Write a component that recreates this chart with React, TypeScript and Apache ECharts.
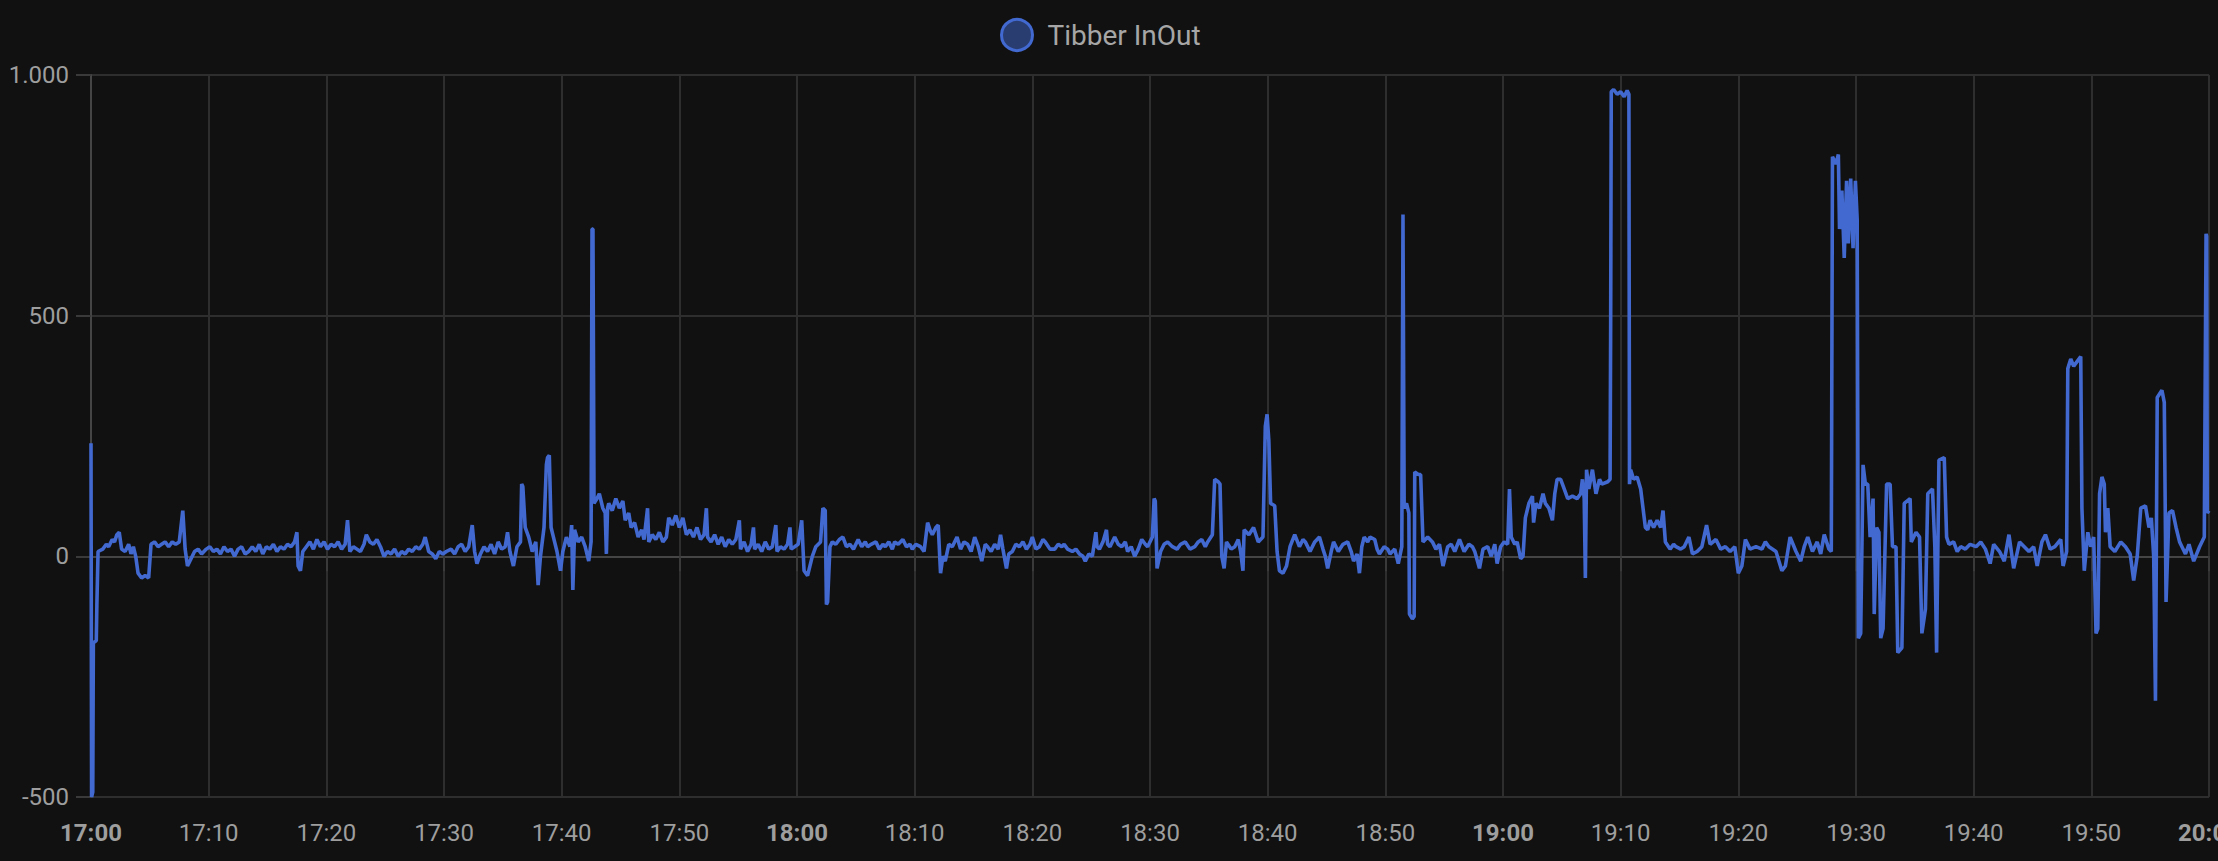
import React, { useEffect, useRef } from "react";
import * as echarts from "echarts";

const seriesName = "Tibber InOut";
const startHour = 17;
const xMinMinutes = 0;
const xMaxMinutes = 180;
const xStepMinutes = 10;
const yMin = -500;
const yMax = 1000;
const yStep = 500;

// [minutes after 17:00, watts]
const seg1700: [number, number][] = [
  [0, 235], [0.05, -500], [0.15, -490], [0.2, -180], [0.45, -175], [0.5, -100], [0.6, 10],
  [1.0, 15], [1.3, 25], [1.5, 20], [1.8, 35], [2.0, 30], [2.2, 45], [2.4, 50], [2.6, 15],
  [2.9, 10], [3.2, 25], [3.4, 5], [3.6, 20], [3.8, 0], [4.0, -35], [4.3, -45], [4.6, -40],
  [4.9, -45], [5.1, 25], [5.4, 30], [5.7, 20], [6.0, 25], [6.3, 30], [6.6, 20], [6.9, 30],
  [7.2, 25], [7.5, 30], [7.8, 95], [8.0, 15], [8.2, -20], [8.5, -5], [8.8, 10], [9.1, 15],
  [9.4, 5], [9.8, 15], [10.1, 20], [10.4, 10], [10.7, 15], [11.0, 5], [11.3, 20], [11.6, 10],
  [11.9, 15], [12.2, 0], [12.5, 15], [12.8, 20], [13.1, 5], [13.4, 10], [13.7, 20], [14.0, 10],
  [14.3, 25], [14.6, 5], [14.9, 20], [15.2, 15], [15.5, 25], [15.8, 10], [16.1, 20], [16.4, 15],
  [16.7, 25], [17.0, 20], [17.3, 30], [17.5, 50], [17.6, -20], [17.8, -30], [18.0, 10], [18.3, 20],
  [18.6, 30], [18.9, 15], [19.2, 35], [19.5, 20], [19.8, 30], [20.1, 15], [20.4, 25], [20.7, 20],
  [21.0, 30], [21.3, 15], [21.6, 25], [21.8, 75], [22.0, 10], [22.3, 20], [22.6, 15], [22.9, 10],
  [23.2, 25], [23.4, 45], [23.7, 30], [24.0, 25], [24.3, 35], [24.6, 20], [24.9, 0], [25.2, 10],
  [25.5, 5], [25.8, 15], [26.1, 0], [26.4, 10], [26.7, 5], [27.0, 15], [27.3, 10], [27.6, 20],
  [27.9, 15], [28.2, 25], [28.4, 40], [28.7, 10], [29.0, 5], [29.3, -5], [29.6, 10], [29.9, 5],
];

const seg1730: [number, number][] = [
  [30.2, 10], [30.6, 15], [30.9, 5], [31.2, 20], [31.5, 25], [31.8, 10], [32.1, 20], [32.4, 65],
  [32.6, 10], [32.8, -15], [33.1, 5], [33.4, 20], [33.7, 10], [34.0, 25], [34.3, 5], [34.6, 30],
  [34.9, 15], [35.2, 20], [35.4, 50], [35.6, 10], [35.9, -20], [36.2, 20], [36.5, 30], [36.6, 150],
  [36.7, 145], [36.9, 60], [37.2, 40], [37.5, 10], [37.8, 30], [38.0, -60], [38.2, 0], [38.5, 60],
  [38.7, 190], [38.8, 205], [38.95, 210], [39.1, 60], [39.3, 40], [39.6, 10], [39.9, -30], [40.1, 10],
  [40.4, 40], [40.7, 20], [40.85, 65], [40.95, -70], [41.1, 55], [41.4, 30], [41.7, 40], [42.0, 20],
  [42.3, -10], [42.5, 30], [42.58, 680], [42.66, 680], [42.75, 110], [43.0, 120], [43.2, 130],
  [43.5, 100], [43.7, 90], [43.8, 5], [43.9, 100], [44.0, 110], [44.3, 95], [44.6, 120], [44.9, 100],
  [45.2, 115], [45.4, 75], [45.7, 90], [45.9, 60], [46.2, 70], [46.5, 40], [46.8, 55], [47.0, 35],
  [47.3, 100], [47.4, 30], [47.7, 45], [48.0, 35], [48.3, 50], [48.6, 30], [48.9, 40], [49.1, 80],
  [49.4, 65], [49.7, 85], [50.0, 60], [50.3, 80], [50.6, 45], [50.9, 55], [51.2, 40], [51.5, 60],
  [51.8, 35], [52.1, 45], [52.3, 100], [52.4, 40], [52.7, 30], [53.0, 45], [53.3, 25], [53.6, 40],
  [53.9, 20], [54.2, 35], [54.5, 25], [54.8, 35], [55.1, 75], [55.2, 15], [55.5, 30], [55.8, 10],
  [56.1, 25], [56.3, 60], [56.4, 15], [56.7, 25], [57.0, 10], [57.3, 30], [57.6, 15], [57.9, 20],
  [58.2, 65], [58.3, 10], [58.6, 20], [58.9, 15], [59.2, 25], [59.4, 60], [59.5, 15], [59.8, 20],
];

const seg1800: [number, number][] = [
  [60.1, 25], [60.4, 75], [60.6, -30], [60.9, -40], [61.3, 0], [61.6, 20], [62.0, 30], [62.2, 100],
  [62.4, 95], [62.5, -100], [62.6, -95], [62.8, 20], [63.0, 30], [63.3, 25], [63.6, 35], [63.9, 40],
  [64.2, 20], [64.5, 25], [64.8, 15], [65.2, 35], [65.5, 20], [65.8, 30], [66.0, 20], [66.3, 25],
  [66.7, 30], [67.0, 15], [67.3, 25], [67.5, 20], [67.8, 30], [68.1, 15], [68.3, 30], [68.6, 25],
  [69.0, 35], [69.3, 20], [69.6, 25], [69.8, 15], [70.1, 25], [70.5, 20], [70.8, 10], [71.1, 70],
  [71.3, 55], [71.5, 45], [71.8, 60], [72.0, 65], [72.2, -35], [72.4, 0], [72.6, -10], [72.9, 25],
  [73.2, 20], [73.6, 40], [73.9, 15], [74.2, 30], [74.5, 25], [74.8, 10], [75.1, 40], [75.4, 20],
  [75.7, -10], [76.0, 25], [76.2, 20], [76.5, 10], [76.8, 25], [77.1, 15], [77.3, 45], [77.5, 15],
  [77.8, -25], [78.0, 5], [78.3, 10], [78.6, 25], [78.9, 20], [79.2, 30], [79.5, 15], [79.8, 25],
  [80.0, 40], [80.3, 15], [80.6, 20], [80.9, 35], [81.1, 30], [81.5, 15], [81.9, 15], [82.2, 25],
  [82.5, 20], [82.7, 25], [83.0, 15], [83.4, 10], [83.7, 15], [84.0, 5], [84.3, 0], [84.5, -10],
  [84.8, 5], [85.1, 0], [85.4, 50], [85.5, 20], [85.7, 15], [86.0, 30], [86.3, 55], [86.4, 25],
  [86.6, 20], [87.0, 40], [87.3, 25], [87.6, 20], [87.9, 30], [88.1, 10], [88.4, 20], [88.7, 0],
  [89.0, 15], [89.3, 35], [89.6, 25], [89.8, 20],
];

const seg1830: [number, number][] = [
  [90.2, 40], [90.35, 120], [90.45, 115], [90.6, -25], [90.9, 10], [91.2, 25], [91.5, 30], [91.9, 20],
  [92.3, 15], [92.6, 25], [93.0, 30], [93.4, 15], [93.8, 20], [94.1, 30], [94.4, 35], [94.7, 20],
  [94.9, 30], [95.3, 45], [95.5, 160], [95.8, 155], [95.95, 150], [96.1, 0], [96.3, -25], [96.5, 30],
  [96.9, 15], [97.2, 20], [97.5, 35], [97.7, 10], [97.9, -30], [98.0, 55], [98.4, 45], [98.8, 60],
  [99.2, 30], [99.6, 40], [99.8, 270], [99.95, 295], [100.1, 240], [100.25, 110], [100.6, 105],
  [100.8, 10], [101.0, -30], [101.3, -35], [101.6, -20], [101.9, 20], [102.3, 45], [102.7, 20],
  [103.0, 35], [103.2, 30], [103.6, 10], [104.0, 30], [104.4, 40], [104.7, 15], [104.9, 0],
  [105.1, -25], [105.4, 10], [105.6, 30], [106.0, 10], [106.4, 25], [106.8, 30], [107.1, 10],
  [107.3, -10], [107.6, 5], [107.8, -35], [108.0, 20], [108.2, 40], [108.5, 30], [108.7, 40],
  [109.1, 35], [109.3, 15], [109.5, 5], [109.9, 20], [110.2, 15], [110.4, 5], [110.8, 15],
  [111.1, -15], [111.4, 20], [111.5, 710], [111.55, 710], [111.6, 100], [111.8, 110], [112.0, 90],
  [112.05, -120], [112.3, -130], [112.45, -125], [112.5, 175], [112.8, 170], [113.0, 170],
  [113.2, 30], [113.6, 40], [114.0, 30], [114.3, 15], [114.6, 25], [114.9, -20], [115.3, 20],
  [115.6, 25], [115.9, 10], [116.3, 35], [116.7, 10], [117.1, 25], [117.4, 20], [117.6, 10],
  [118.0, -25], [118.3, 15], [118.7, 20], [119.0, 0], [119.3, 25], [119.5, -15], [119.8, 20],
];

const seg1900: [number, number][] = [
  [120.1, 30], [120.4, 25], [120.55, 140], [120.7, 40], [121.0, 25], [121.2, 30], [121.5, -5],
  [121.7, 0], [121.9, 80], [122.2, 110], [122.5, 125], [122.6, 70], [122.8, 110], [123.1, 100],
  [123.4, 130], [123.6, 110], [123.9, 100], [124.2, 75], [124.4, 130], [124.6, 160], [124.9, 160],
  [125.2, 140], [125.5, 120], [125.9, 125], [126.3, 120], [126.6, 130], [126.75, 160], [126.9, 120],
  [127.0, -45], [127.1, 180], [127.3, 140], [127.6, 180], [127.9, 130], [128.2, 160], [128.4, 150],
  [128.9, 155], [129.1, 160], [129.15, 480], [129.2, 965], [129.4, 970], [129.7, 960], [130.0, 965],
  [130.3, 955], [130.55, 968], [130.7, 960], [130.75, 150], [130.85, 180], [131.1, 160],
  [131.4, 165], [131.7, 140], [131.9, 100], [132.1, 60], [132.3, 55], [132.5, 75], [132.8, 60],
  [133.1, 75], [133.4, 60], [133.6, 95], [133.8, 30], [134.2, 15], [134.5, 25], [134.7, 20],
  [135.1, 15], [135.4, 20], [135.8, 40], [136.1, 5], [136.5, 10], [136.9, 20], [137.3, 65],
  [137.6, 25], [138.1, 35], [138.5, 15], [138.9, 20], [139.3, 10], [139.7, 20], [140.0, -35],
  [140.3, -20], [140.6, 35], [141.0, 15], [141.5, 20], [142.0, 15], [142.3, 30], [142.6, 20],
  [143.2, 10], [143.7, -30], [144.0, -20], [144.4, 40], [144.9, 10], [145.3, -10], [145.6, 20],
  [145.9, 40], [146.3, 10], [146.7, 30], [147.0, 5], [147.3, 45], [147.7, 15], [147.9, 10],
  [148.0, 830], [148.3, 815], [148.5, 835], [148.6, 680], [148.8, 760], [149.0, 620], [149.2, 780],
  [149.35, 650], [149.55, 785], [149.75, 640], [149.95, 780],
];

const seg1930: [number, number][] = [
  [150.1, 700], [150.2, -170], [150.4, -160], [150.6, 190], [150.8, 150], [151.0, 150], [151.2, 40],
  [151.45, 120], [151.55, -120], [151.75, 60], [151.95, 50], [152.1, -170], [152.3, -150],
  [152.45, 0], [152.6, 150], [152.9, 150], [153.1, 20], [153.4, 20], [153.55, -200], [153.9, -190],
  [154.1, 110], [154.6, 120], [154.7, 30], [155.1, 50], [155.4, 40], [155.6, -160], [155.9, -110],
  [156.1, 130], [156.5, 140], [156.7, 20], [156.85, -200], [157.05, 200], [157.5, 205], [157.7, 40],
  [157.9, 25], [158.3, 30], [158.6, 10], [158.9, 20], [159.3, 15], [159.7, 25], [160.2, 20],
  [160.6, 30], [161.0, 15], [161.4, -15], [161.7, 25], [162.2, 10], [162.6, -10], [163.0, 45],
  [163.4, -25], [163.9, 30], [164.3, 20], [164.7, 10], [165.1, 20], [165.4, -20], [165.8, 30],
  [166.1, 45], [166.5, 15], [166.9, 20], [167.4, 35], [167.6, -20], [167.9, 10], [168.0, 390],
  [168.25, 410], [168.5, 395], [168.8, 405], [169.1, 415], [169.2, 100], [169.4, -30], [169.7, 50],
  [169.95, 20], [170.2, 40], [170.4, -160], [170.55, -150], [170.7, 130], [170.9, 165], [171.1, 150],
  [171.2, 50], [171.4, 100], [171.6, 20], [172.0, 10], [172.5, 30], [172.9, 20], [173.3, 5],
  [173.6, -50], [173.9, 0], [174.2, 100], [174.6, 105], [174.9, 60], [175.1, 80], [175.3, 0],
  [175.45, -300], [175.6, 330], [176.0, 345], [176.2, 320], [176.35, -95], [176.6, 90], [176.9, 95],
  [177.2, 60], [177.5, 30], [177.7, 20], [178.0, 5], [178.3, 25], [178.7, -10], [179.2, 20],
  [179.6, 40], [179.75, 670], [179.8, 665], [179.85, 90], [180, 95],
];

const textColor = "#9e9e9e";
const fontFamily = "Roboto";

function fmtTime(v: number): string {
  const h = startHour + Math.floor(v / 60);
  const m = Math.round(v % 60);
  const s = `${h}:${String(m).padStart(2, "0")}`;
  return m === 0 ? `{b|${s}}` : s;
}

function fmtNumber(v: number): string {
  const sign = v < 0 ? "-" : "";
  const a = Math.abs(v);
  return sign + String(a).replace(/\B(?=(\d{3})+(?!\d))/g, ".");
}

export default function App() {
  const ref = useRef<HTMLDivElement>(null);
  useEffect(() => {
    if (!ref.current) return;
    const chart = echarts.init(ref.current, null, { renderer: "svg" });
    const data = [...seg1700, ...seg1730, ...seg1800, ...seg1830, ...seg1900, ...seg1930].sort(
      (a, b) => a[0] - b[0]
    );
    chart.setOption({
      animation: false,
      backgroundColor: "#111111",
      textStyle: { fontFamily },
      legend: {
        top: 13,
        left: 995,
        icon: "circle",
        itemWidth: 31,
        itemHeight: 31,
        itemStyle: { color: "rgba(66,105,208,0.5)", borderColor: "#4269d0", borderWidth: 3 },
        textStyle: { color: "#a6a6a6", fontSize: 28, fontFamily, padding: [0, 0, 0, 10] },
        data: [seriesName],
      },
      grid: { left: 91, right: 9, top: 75, bottom: 64, containLabel: false, outerBoundsMode: "none" },
      xAxis: {
        type: "value",
        min: xMinMinutes,
        max: xMaxMinutes,
        interval: xStepMinutes,
        axisLine: { show: true, lineStyle: { color: "#454545", width: 2 } },
        axisTick: { show: true, length: 15, lineStyle: { color: "#3a3a3a", width: 2 } },
        splitLine: { show: true, lineStyle: { color: "#2e2e2e", width: 2 } },
        axisLabel: {
          show: true,
          showMaxLabel: true,
          showMinLabel: true,
          margin: 24,
          color: textColor,
          fontSize: 24,
          fontFamily,
          formatter: fmtTime,
          rich: { b: { fontWeight: "bold", fontSize: 24, color: textColor, fontFamily } },
        },
      },
      yAxis: {
        type: "value",
        min: yMin,
        max: yMax,
        interval: yStep,
        axisLine: { show: true, lineStyle: { color: "#454545", width: 2 } },
        axisTick: { show: true, length: 15, lineStyle: { color: "#3a3a3a", width: 2 } },
        splitLine: { show: true, lineStyle: { color: "#2e2e2e", width: 2 } },
        axisLabel: { margin: 22, color: textColor, fontSize: 24, fontFamily, formatter: fmtNumber },
      },
      series: [
        {
          name: seriesName,
          type: "line",
          data,
          showSymbol: false,
          symbol: "none",
          itemStyle: { color: "#4269d0" },
          lineStyle: { color: "#4269d0", width: 3.6, join: "bevel" },
        },
      ],
    });
    return () => chart.dispose();
  }, []);
  return <div ref={ref} style={{ position: "fixed", left: 0, top: 0, width: 2218, height: 861 }} />;
}
